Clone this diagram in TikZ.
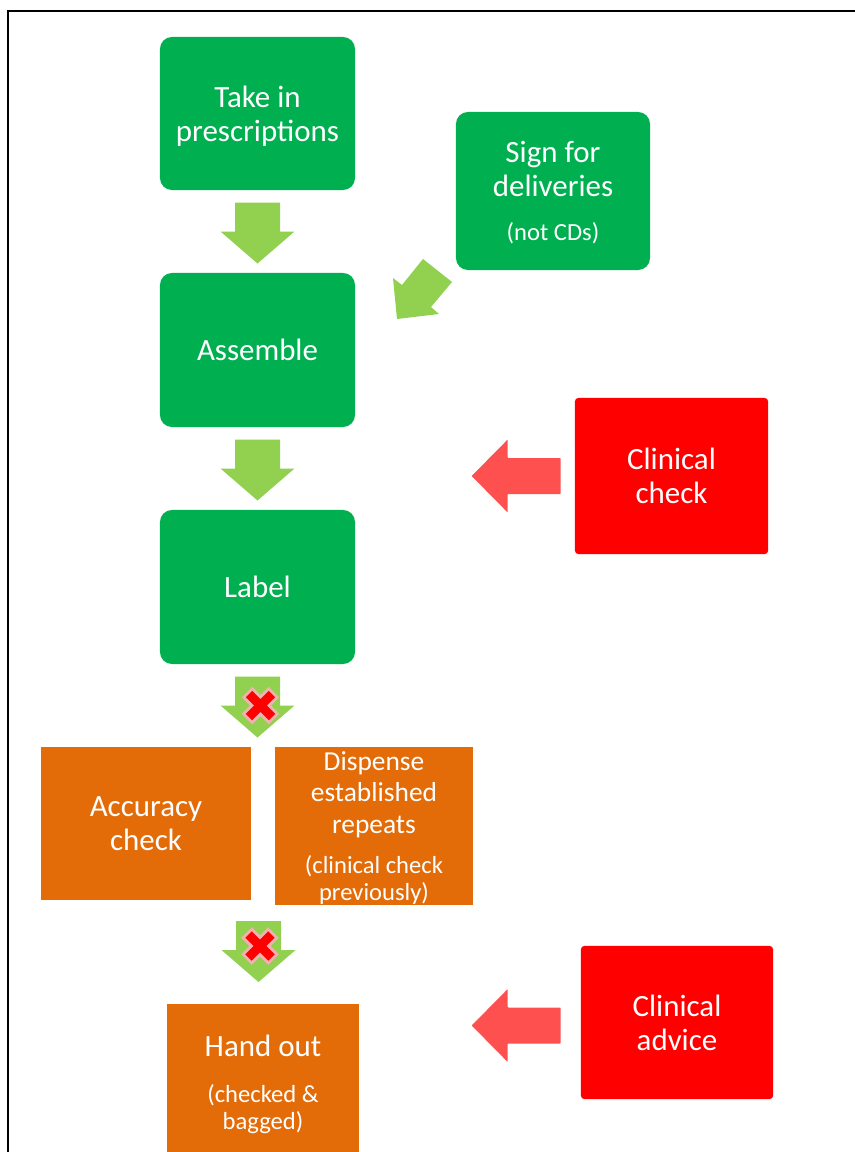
\documentclass[tikz,border=0pt]{standalone}
\usepackage{fontspec}
\setmainfont{Carlito}
\usetikzlibrary{calc}
\definecolor{boxgreen}{HTML}{00B050}
\definecolor{arrowgreen}{HTML}{92D050}
\definecolor{boxorange}{HTML}{E36C09}
\definecolor{boxred}{HTML}{FF0000}
\definecolor{arrowred}{HTML}{FF5050}
\definecolor{xpink}{HTML}{F2B0B0}
\newcommand\bigfont{\fontsize{22}{24}\selectfont}
\newcommand\midfont{\fontsize{19.5}{22.4}\selectfont}
\newcommand\smallfont{\fontsize{17.5}{19}\selectfont}
\tikzset{
  card/.style={text=white, align=center, inner sep=0pt, font=\bigfont},
  greencard/.style={card, fill=boxgreen, rounded corners=0.3cm},
  redcard/.style={card, fill=boxred, rounded corners=0.08cm},
  orangecard/.style={card, fill=boxorange},
  pics/downblock/.style={code={
    \fill[arrowgreen] (-22.5,-29) -- (22.5,-29) -- (22.5,0) -- (37,0) -- (0,32) -- (-37,0) -- (-22.5,0) -- cycle;}},
  pics/xmark/.style={code={
    \draw[xpink, line width=0.375cm] (-13.5,-13.5) -- (13.5,13.5) (-13.5,13.5) -- (13.5,-13.5);
    \draw[boxred, line width=0.225cm] (-11.5,-11.5) -- (11.5,11.5) (-11.5,11.5) -- (11.5,-11.5);}},
  pics/leftblock/.style={code={
    \fill[arrowred, rounded corners=0.5pt] (0,-18) -- (-53,-18) -- (-53,-36.5) -- (-89,0) -- (-53,36.5) -- (-53,18) -- (0,18) -- cycle;}},
}
\begin{document}
\begin{tikzpicture}[x=0.025cm, y=-0.025cm]
\path[use as bounding box, fill=white] (0,0) rectangle (855,1152);
\draw[line width=0.06cm, line join=miter] (8,1170) -- (8,11) -- (870,11);

\node[greencard, text depth=0pt, minimum width=4.875cm, minimum height=3.825cm] (take) at (257.5,113.5) {Take in\\prescriptions};
\node[greencard, text depth=0pt, minimum width=4.85cm, minimum height=3.95cm] (sign) at (553,191) {Sign for\\deliveries\\[7pt]{\smallfont (not CDs)}};
\node[greencard, minimum width=4.875cm, minimum height=3.85cm] (assemble) at (257.5,350) {Assemble};
\node[greencard, minimum width=4.875cm, minimum height=3.85cm] (label) at (257.5,587) {Label};
\node[redcard, minimum width=4.825cm, minimum height=3.9cm] (ccheck) at (671.5,476) {Clinical\\check};
\node[orangecard, minimum width=5.25cm, minimum height=3.825cm] (accuracy) at (146,823.5) {Accuracy\\check};
\node[orangecard, text depth=0pt, font=\midfont, minimum width=4.95cm, minimum height=3.95cm] (dispense) at (374,826) {Dispense\\established\\repeats\\[6.6pt]{\smallfont (clinical check}\\[-3.2pt]{\smallfont previously)}};
\node[orangecard, minimum width=4.8cm, minimum height=4.025cm] (handout) at (263,1084.5) {Hand out\\[8.5pt]{\smallfont (checked \&}\\[-4.8pt]{\smallfont bagged)}};
\node[redcard, minimum width=4.8cm, minimum height=3.825cm] (cadvice) at (677,1022.5) {Clinical\\advice};

\pic at ($(take.south)!0.5!(assemble.north)$) {downblock};
\pic at ($(assemble.south)!0.5!(label.north)$) {downblock};
\coordinate (a3) at ($(label.south)!0.5!(label.south |- accuracy.north)$);
\pic at (a3) {downblock};
\pic at ($(a3)+(3,0)$) {xmark};
\coordinate (a4) at ($(label.south |- accuracy.south)!0.5!(label.south |- handout.north)$);
\pic at ($(a4)+(1,-2)$) {downblock};
\pic at ($(a4)+(2.5,-6)$) {xmark};

\fill[arrowgreen] (423,259) -- (452,282) -- (431,307) -- (439,314) -- (397,319) -- (393,278) -- (402,285) -- cycle;

\pic at ($(ccheck.west)+(-14,0)$) {leftblock};
\pic at ($(cadvice.west)+(-20,3)$) {leftblock};
\end{tikzpicture}
\end{document}
